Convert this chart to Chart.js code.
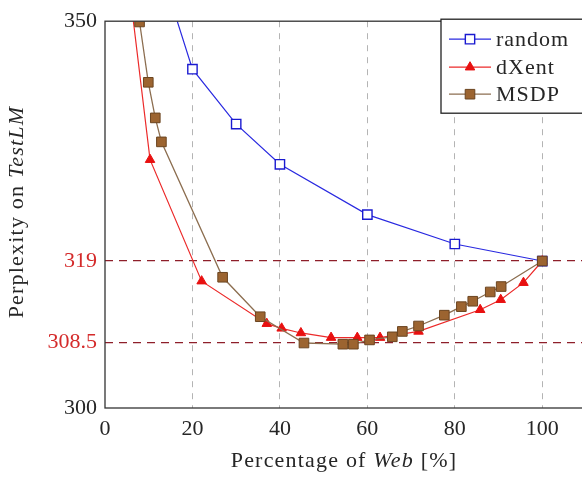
<!DOCTYPE html>
<html>
<head>
<meta charset="utf-8">
<script src="https://cdn.jsdelivr.net/npm/chart.js@4.4.1/dist/chart.umd.min.js"></script>
<style>
  html, body { margin: 0; padding: 0; background: #fff; overflow: hidden; }
  #wrap { position: absolute; left: 0; top: 0; }
</style>
</head>
<body>
<div id="wrap"><canvas id="ppl" width="600" height="484"></canvas></div>
<script>
var xTicks = [0, 20, 40, 60, 80, 100];
var yTicks = [300, 308.5, 319, 350];
var redTicks = [308.5, 319];

var randomX = [10, 20, 30, 40, 60, 80, 100];
var randomY = [361.6, 343.8, 336.7, 331.5, 325.0, 321.2, 319.0];

var dxentX = [5, 10.3, 22.1, 37.0, 40.4, 44.8, 51.7, 57.7, 62.9, 71.7, 85.8, 90.5, 95.7, 100];
var dxentY = [357, 332.1, 316.4, 310.9, 310.3, 309.7, 309.1, 309.1, 309.1, 309.9, 312.7, 314.0, 316.2, 319.0];

var msdpX = [7.9, 9.9, 11.5, 12.9, 26.9, 35.5, 45.5, 54.4, 56.8, 60.5, 65.7, 68.0, 71.7, 77.6, 81.5, 84.1, 88.1, 90.6, 100];
var msdpY = [349.9, 342.1, 337.5, 334.4, 316.9, 311.8, 308.4, 308.25, 308.25, 308.8, 309.2, 309.9, 310.6, 312.0, 313.1, 313.8, 315.0, 315.7, 319.0];

var serif = "'Liberation Serif', 'DejaVu Serif', serif";
var ink = '#262626';

function pts(xs, ys) {
  var out = [];
  for (var i = 0; i < xs.length; i++) out.push({ x: xs[i], y: ys[i] });
  return out;
}

// frame round the plot, axis titles with italic parts, legend inside the plot
var extras = {
  id: 'extras',
  afterDatasetsDraw: function(chart) {
    var ctx = chart.ctx, a = chart.chartArea;
    ctx.save();
    ctx.strokeStyle = '#333';
    ctx.lineWidth = 1.3;
    ctx.strokeRect(a.left, a.top, a.right - a.left, a.bottom - a.top);

    // legend
    var lx = 441, ly = a.top - 2, lw = 200, lh = 94;
    ctx.fillStyle = '#fff';
    ctx.fillRect(lx, ly, lw, lh);
    ctx.strokeStyle = '#222';
    ctx.strokeRect(lx, ly, lw, lh);
    var rows = [20, 48, 75];
    chart.data.datasets.forEach(function(ds, i) {
      var y = ly + rows[i];
      ctx.strokeStyle = ds.borderColor;
      ctx.lineWidth = 1.2;
      ctx.beginPath(); ctx.moveTo(449, y); ctx.lineTo(491, y); ctx.stroke();
      ctx.fillStyle = ds.pointBackgroundColor;
      ctx.strokeStyle = ds.pointBorderColor;
      ctx.lineWidth = ds.pointBorderWidth;
      Chart.helpers.drawPoint(ctx, {
        pointStyle: ds.pointStyle, rotation: 0, radius: ds.pointRadius, borderWidth: ds.pointBorderWidth
      }, 470, y);
      ctx.fillStyle = ink;
      ctx.font = '22px ' + serif;
      ctx.letterSpacing = '1px';
      ctx.textBaseline = 'middle';
      ctx.textAlign = 'left';
      ctx.fillText(ds.label, 496, y + 1);
    });

    // axis titles
    function mixed(parts, cx, cy) {
      var w = 0;
      parts.forEach(function(p) { ctx.font = p[1] + '22px ' + serif; w += ctx.measureText(p[0]).width; });
      var x = cx - w / 2;
      parts.forEach(function(p) {
        ctx.font = p[1] + '22px ' + serif;
        ctx.fillText(p[0], x, cy);
        x += ctx.measureText(p[0]).width;
      });
    }
    ctx.fillStyle = ink;
    ctx.textAlign = 'left';
    ctx.textBaseline = 'middle';
    ctx.letterSpacing = '1.2px';
    mixed([['Percentage of ', ''], ['Web', 'italic '], [' [%]', '']], 344, 461);
    ctx.translate(17, 212);
    ctx.rotate(-Math.PI / 2);
    mixed([['Perplexity on ', ''], ['TestLM', 'italic ']], 0, 0);
    ctx.restore();
  }
};

var ctx = document.getElementById('ppl').getContext('2d');
var chart = new Chart(ctx, {
  type: 'line',
  data: {
    datasets: [
      {
        label: 'random', data: pts(randomX, randomY), order: 2,
        borderColor: '#2a2ae0', borderWidth: 1.2,
        pointStyle: 'rect', pointRadius: 6.6, pointBorderWidth: 1.4,
        pointBorderColor: '#1a1ad0', pointBackgroundColor: '#fff'
      },
      {
        label: 'dXent', data: pts(dxentX, dxentY), order: 1,
        borderColor: '#ec2a2a', borderWidth: 1.2,
        pointStyle: 'triangle', pointRadius: 5.5, pointBorderWidth: 1,
        pointBorderColor: '#e81010', pointBackgroundColor: '#e81010'
      },
      {
        label: 'MSDP', data: pts(msdpX, msdpY), order: 0,
        borderColor: '#8c6e50', borderWidth: 1.3,
        pointStyle: 'rect', pointRadius: 6.8, pointBorderWidth: 1,
        pointBorderColor: '#6b4520', pointBackgroundColor: '#9c6430'
      }
    ]
  },
  options: {
    responsive: false,
    animation: false,
    layout: { padding: { left: 0, right: 14, top: 16, bottom: 0 } },
    plugins: { legend: { display: false }, tooltip: { enabled: false } },
    elements: { line: { tension: 0 } },
    scales: {
      x: {
        type: 'linear', min: 0, max: 110,
        afterBuildTicks: function(s) { s.ticks = xTicks.map(function(v) { return { value: v }; }); },
        afterFit: function(s) { s.height = 76; },
        border: { display: false, dash: [6, 6] },
        grid: {
          drawTicks: false, lineWidth: 1,
          color: function(c) { return c.tick && c.tick.value === 0 ? 'rgba(0,0,0,0)' : '#b4b4b4'; }
        },
        ticks: { color: ink, padding: 8, font: { family: serif, size: 22 }, maxRotation: 0 }
      },
      y: {
        type: 'linear', min: 300, max: 350,
        afterBuildTicks: function(s) { s.ticks = yTicks.map(function(v) { return { value: v }; }); },
        afterFit: function(s) { s.width = 105; },
        border: { display: false, dash: [8, 6] },
        grid: {
          drawTicks: false, lineWidth: 1.3,
          color: function(c) {
            return c.tick && redTicks.indexOf(c.tick.value) >= 0 ? '#8e1f2a' : 'rgba(0,0,0,0)';
          }
        },
        ticks: {
          padding: 8, font: { family: serif, size: 22 },
          color: function(c) { return redTicks.indexOf(c.tick.value) >= 0 ? '#d42a2a' : ink; },
          callback: function(v) { return String(v); }
        }
      }
    }
  },
  plugins: [extras]
});
</script>
</body>
</html>
